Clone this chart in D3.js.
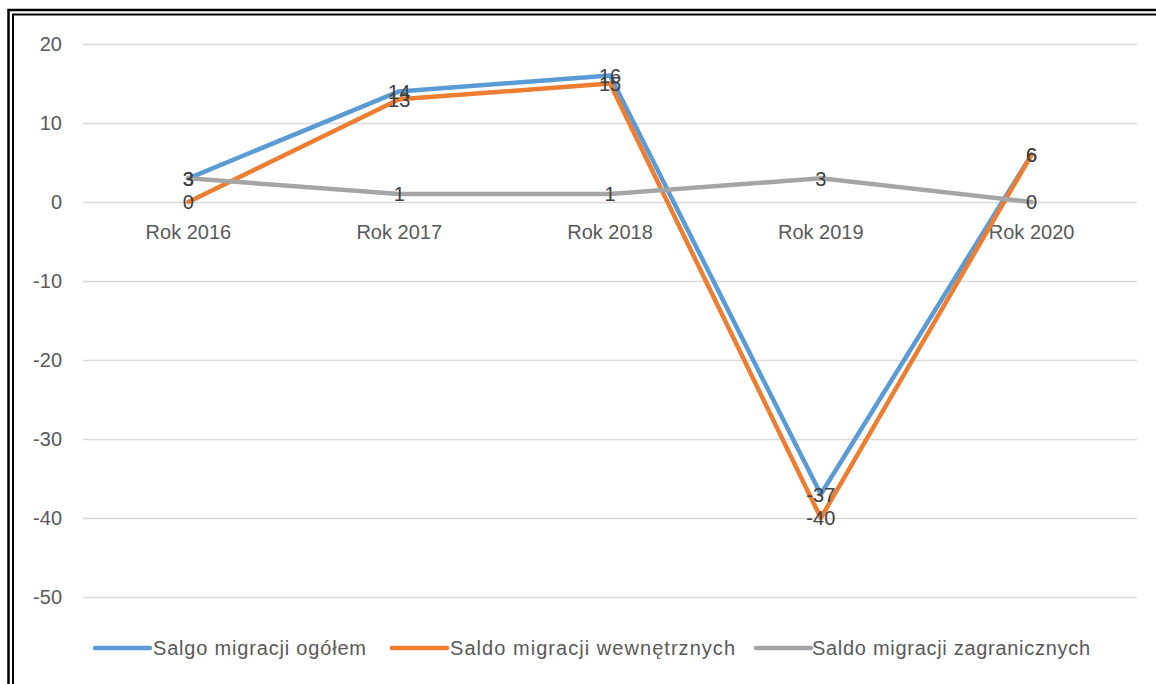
<!DOCTYPE html>
<html>
<head>
<meta charset="utf-8">
<script src="https://cdn.jsdelivr.net/npm/d3@7"></script>
<style>
  html, body { margin: 0; padding: 0; background: #fff; }
  svg { display: block; }
  text { font-family: "Liberation Sans", Arial, sans-serif; }
</style>
</head>
<body>
<svg id="chart" width="1156" height="684"></svg>
<script>
// Migration balance by year
const categories = ["Rok 2016", "Rok 2017", "Rok 2018", "Rok 2019", "Rok 2020"];
const seriesNames = ["Salgo migracji ogółem", "Saldo migracji wewnętrznych", "Saldo migracji zagranicznych"];
const totalValues = [3, 14, 16, -37, 6];
const internalValues = [0, 13, 15, -40, 6];
const foreignValues = [3, 1, 1, 3, 0];
const yTicks = [20, 10, 0, -10, -20, -30, -40, -50];
const colors = ["#5B9BD5", "#ED7D31", "#A5A5A5"];

const series = [
  { name: seriesNames[0], values: totalValues, color: colors[0] },
  { name: seriesNames[1], values: internalValues, color: colors[1] },
  { name: seriesNames[2], values: foreignValues, color: colors[2] }
];

const svg = d3.select("#chart");

// double frame around the chart area
svg.append("rect").attr("x", 8.5).attr("y", 10).attr("width", 1160).attr("height", 700)
  .attr("fill", "none").attr("stroke", "#000").attr("stroke-width", 2.5);
svg.append("rect").attr("x", 13).attr("y", 14.5).attr("width", 1160).attr("height", 700)
  .attr("fill", "none").attr("stroke", "#000").attr("stroke-width", 2);

const plot = { left: 83, right: 1137, top: 44, bottom: 597 };

const x = d3.scaleBand().domain(categories).range([plot.left, plot.right]);
const y = d3.scaleLinear().domain([-50, 20]).range([plot.bottom, plot.top]);

// horizontal gridlines and value axis labels (plain hyphen minus)
const yAxis = d3.axisLeft(y).tickValues(yTicks).tickFormat(d => String(d))
  .tickSize(-(plot.right - plot.left)).tickPadding(21);
const gy = svg.append("g").attr("transform", `translate(${plot.left},0)`).call(yAxis);
gy.select(".domain").remove();
gy.selectAll(".tick line").attr("stroke", "#D9D9D9").attr("stroke-width", 1.3);
gy.selectAll(".tick text").attr("fill", "#595959").style("font-size", "20px")
  .style("font-family", "'Liberation Sans', Arial, sans-serif");

// category labels sit below the zero line
const xAxis = d3.axisBottom(x).tickSize(0).tickPadding(23);
const gx = svg.append("g").attr("transform", `translate(0,${y(0)})`).call(xAxis);
gx.select(".domain").remove();
gx.selectAll(".tick text").attr("fill", "#595959").style("font-size", "20px")
  .style("font-family", "'Liberation Sans', Arial, sans-serif");

const cx = c => x(c) + x.bandwidth() / 2;
const line = d3.line().x((d, i) => cx(categories[i])).y(d => y(d));

svg.append("g").selectAll("path").data(series).join("path")
  .attr("d", s => line(s.values))
  .attr("fill", "none")
  .attr("stroke", s => s.color)
  .attr("stroke-width", 4.5)
  .attr("stroke-linejoin", "round")
  .attr("stroke-linecap", "round");

// value labels centred on each point
const labels = svg.append("g");
series.forEach(s => {
  labels.selectAll(null).data(s.values).join("text")
    .attr("x", (d, i) => cx(categories[i]))
    .attr("y", d => y(d))
    .attr("dy", "0.36em")
    .attr("text-anchor", "middle")
    .attr("fill", "#404040")
    .style("font-size", "20px")
    .text(d => d);
});

// legend
const legendItems = [
  { x: 95, textX: 153, width: 213 },
  { x: 392, textX: 450, width: 285 },
  { x: 756, textX: 812, width: 278 }
];
const legendY = 648;
const lg = svg.append("g");
series.forEach((s, i) => {
  lg.append("line")
    .attr("x1", legendItems[i].x).attr("x2", legendItems[i].x + 55)
    .attr("y1", legendY).attr("y2", legendY)
    .attr("stroke", s.color).attr("stroke-width", 4.5).attr("stroke-linecap", "round");
  lg.append("text")
    .attr("x", legendItems[i].textX).attr("y", legendY).attr("dy", "0.36em")
    .attr("textLength", legendItems[i].width).attr("lengthAdjust", "spacing")
    .attr("fill", "#595959").style("font-size", "20px")
    .text(s.name);
});
</script>
</body>
</html>
